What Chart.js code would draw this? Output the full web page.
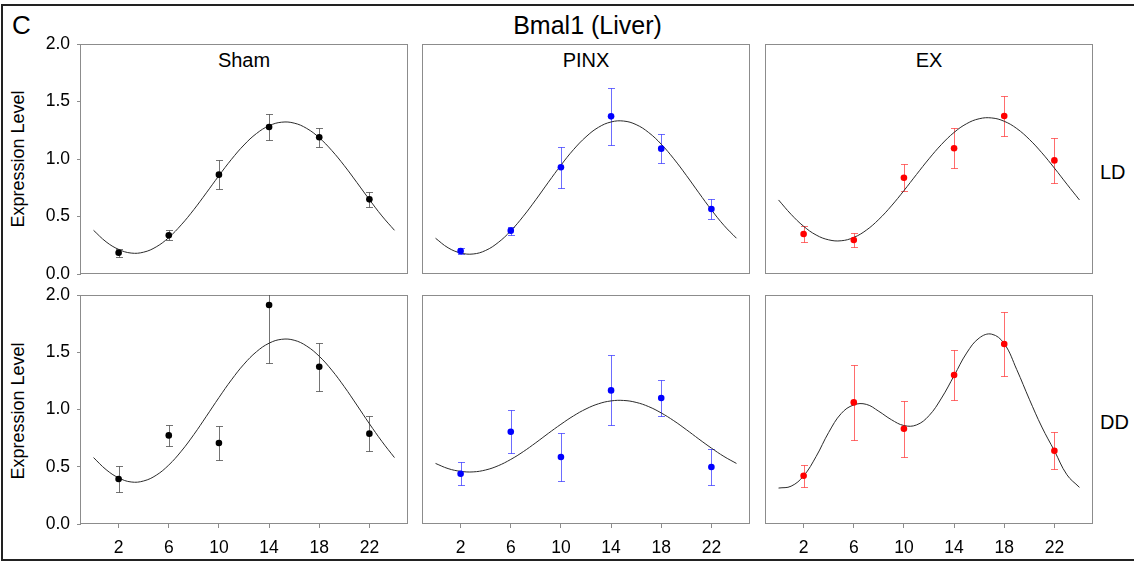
<!DOCTYPE html>
<html><head><meta charset="utf-8">
<script src="https://cdn.jsdelivr.net/npm/chart.js@4/dist/chart.umd.min.js"></script>
<style>
html,body{margin:0;padding:0;background:#fff;}
#fig{position:relative;width:1134px;height:561px;overflow:hidden;font-family:"Liberation Sans",Arial,sans-serif;color:#000;background:#fff;}
#fig canvas{position:absolute;}
.lbl{position:absolute;white-space:nowrap;line-height:1;}
.ctr{text-align:center;width:200px;}
.rot{transform:rotate(-90deg);}
</style></head><body>
<div id="fig">
  <div style="position:absolute;left:1px;top:4px;width:1200px;height:557px;box-sizing:border-box;border:2px solid #222;border-right:none;"></div>
</div>
<script>
// ---------- data ----------
const hours = [2, 6, 10, 14, 18, 22];
const xTickLabels = ['2', '6', '10', '14', '18', '22'];
const yTickLabels = ['0.0', '0.5', '1.0', '1.5', '2.0'];
const curveHours = [0,1,2,3,4,5,6,7,8,9,10,11,12,13,14,15,16,17,18,19,20,21,22,23,24];
const groups = ['Sham', 'PINX', 'EX'];
const conditions = ['LD', 'DD'];
const figTitle = 'Bmal1 (Liver)';
const panelLetter = 'C';
const yAxisTitle = 'Expression Level';

const shamLD    = [0.185, 0.336, 0.864, 1.278, 1.189, 0.649];
const shamLDErr = [0.036, 0.043, 0.123, 0.117, 0.083, 0.064];
const shamLDFit = [0.38,0.28,0.214,0.182,0.19,0.236,0.317,0.428,0.56,0.706,0.855,0.997,1.122,1.222,1.289,1.32,1.312,1.266,1.185,1.074,0.942,0.796,0.647,0.505,0.38];

const pinxLD    = [0.20, 0.377, 0.928, 1.371, 1.09, 0.565];
const pinxLDErr = [0.026, 0.036, 0.178, 0.245, 0.126, 0.083];
const pinxLDFit = [0.311,0.228,0.183,0.174,0.205,0.274,0.375,0.502,0.646,0.798,0.946,1.081,1.193,1.276,1.322,1.33,1.299,1.23,1.129,1.002,0.858,0.706,0.558,0.423,0.311];

const exLD    = [0.348, 0.296, 0.837, 1.093, 1.374, 0.988];
const exLDErr = [0.068, 0.061, 0.119, 0.175, 0.17, 0.194];
const exLDFit = [0.644,0.519,0.415,0.339,0.297,0.289,0.318,0.381,0.475,0.592,0.725,0.865,1.002,1.127,1.231,1.307,1.35,1.357,1.328,1.265,1.171,1.054,0.921,0.781,0.644];

const shamDD    = [0.393, 0.774, 0.707, 1.913, 1.374, 0.789];
const shamDDErr = [0.117, 0.089, 0.149, 0.507, 0.211, 0.15];
const shamDDFit = [0.58,0.475,0.403,0.367,0.376,0.426,0.515,0.636,0.781,0.941,1.104,1.259,1.396,1.505,1.579,1.613,1.605,1.554,1.465,1.344,1.199,1.039,0.876,0.721,0.58];

const pinxDD    = [0.439, 0.806, 0.585, 1.167, 1.10, 0.498];
const pinxDDErr = [0.102, 0.186, 0.21, 0.305, 0.157, 0.157];
const pinxDDFit = [0.529,0.484,0.46,0.455,0.472,0.509,0.564,0.632,0.71,0.792,0.871,0.944,1.005,1.05,1.075,1.079,1.062,1.025,0.97,0.902,0.824,0.742,0.663,0.59,0.529];

const exDD    = [0.422, 1.062, 0.832, 1.301, 1.572, 0.64];
const exDDErr = [0.095, 0.327, 0.243, 0.218, 0.276, 0.16];
const exDDFit = [0.314,0.33,0.42,0.59,0.8,0.965,1.04,1.045,0.984,0.911,0.86,0.865,0.946,1.1,1.295,1.493,1.624,1.658,1.575,1.348,1.09,0.847,0.64,0.43,0.32];

// ---------- layout ----------
const FONT = '"Liberation Sans", Arial, sans-serif';
const COLS = [81, 423, 766];
const ROWS = [44, 295];
const PANEL_W = 326;
const PANEL_H = [230, 229];
const YAXIS_W = 60, PAD_T = 18, PAD_R = 8;
const XAXIS_H = [18, 37];

const fig = document.getElementById('fig');

function addLabel(text, css, cls) {
  const d = document.createElement('div');
  d.className = 'lbl ' + (cls || '');
  d.textContent = text;
  Object.assign(d.style, css);
  fig.appendChild(d);
}

addLabel(figTitle, {left: (587.5 - 100) + 'px', top: '12.8px', fontSize: '25px'}, 'ctr');
addLabel(panelLetter, {left: '12px', top: '11.5px', fontSize: '26px'});
groups.forEach((g, c) => addLabel(g, {left: (COLS[c] + PANEL_W / 2 - 100) + 'px', top: '50.2px', fontSize: '20px'}, 'ctr'));
addLabel(conditions[0], {left: '1100px', top: '162.2px', fontSize: '20px'});
addLabel(conditions[1], {left: '1100px', top: '411.9px', fontSize: '20px'});
[159, 411].forEach(cy => addLabel(yAxisTitle, {left: (18 - 100) + 'px', top: (cy - 9) + 'px', fontSize: '18px', height: '18px'}, 'ctr rot'));

const framePlugin = {
  id: 'frame',
  beforeDatasetsDraw(chart) {
    const a = chart.chartArea, ctx = chart.ctx;
    ctx.save();
    ctx.strokeStyle = '#8c8c8c';
    ctx.lineWidth = 1;
    ctx.strokeRect(Math.round(a.left) - 0.5, Math.round(a.top) + 0.5, Math.round(a.right - a.left) + 1, Math.round(a.bottom - a.top) - 1);
    ctx.restore();
  }
};

const errorBarPlugin = {
  id: 'errorBars',
  beforeDatasetsDraw(chart) {
    const ctx = chart.ctx, a = chart.chartArea;
    const xs = chart.scales.x, ys = chart.scales.y;
    chart.data.datasets.forEach(ds => {
      if (!ds.errors) return;
      ctx.save();
      ctx.beginPath();
      ctx.rect(a.left, a.top, a.right - a.left, a.bottom - a.top);
      ctx.clip();
      ctx.strokeStyle = ds.errorColor;
      ctx.lineWidth = 1;
      ds.data.forEach((pt, i) => {
        const e = ds.errors[i];
        const px = Math.round(xs.getPixelForValue(pt.x)) + 0.5;
        const yTop = Math.round(ys.getPixelForValue(pt.y + e)) + 0.5;
        const yBot = Math.round(ys.getPixelForValue(pt.y - e)) + 0.5;
        ctx.beginPath();
        ctx.moveTo(px, yTop); ctx.lineTo(px, yBot);
        ctx.moveTo(px - 3.5, yTop); ctx.lineTo(px + 3.5, yTop);
        ctx.moveTo(px - 3.5, yBot); ctx.lineTo(px + 3.5, yBot);
        ctx.stroke();
      });
      ctx.restore();
    });
  }
};

const panels = [
  {col: 0, row: 0, mean: shamLD, err: shamLDErr, fit: shamLDFit, color: '#000000', bar: 'rgba(70,70,70,0.75)'},
  {col: 1, row: 0, mean: pinxLD, err: pinxLDErr, fit: pinxLDFit, color: '#0000ff', bar: 'rgba(30,30,255,0.65)'},
  {col: 2, row: 0, mean: exLD,   err: exLDErr,   fit: exLDFit,   color: '#ff0000', bar: 'rgba(255,30,30,0.65)'},
  {col: 0, row: 1, mean: shamDD, err: shamDDErr, fit: shamDDFit, color: '#000000', bar: 'rgba(70,70,70,0.75)'},
  {col: 1, row: 1, mean: pinxDD, err: pinxDDErr, fit: pinxDDFit, color: '#0000ff', bar: 'rgba(30,30,255,0.65)'},
  {col: 2, row: 1, mean: exDD,   err: exDDErr,   fit: exDDFit,   color: '#ff0000', bar: 'rgba(255,30,30,0.65)'}
];

panels.forEach(p => {
  const xh = XAXIS_H[p.row];
  const w = YAXIS_W + PANEL_W + PAD_R;
  const h = PAD_T + PANEL_H[p.row] + xh;
  const cv = document.createElement('canvas');
  cv.width = w; cv.height = h;
  cv.style.left = (COLS[p.col] - YAXIS_W) + 'px';
  cv.style.top = (ROWS[p.row] - PAD_T) + 'px';
  cv.style.width = w + 'px'; cv.style.height = h + 'px';
  fig.appendChild(cv);
  const showY = p.col === 0, showX = p.row === 1;
  new Chart(cv, {
    type: 'line',
    data: {
      datasets: [
        {label: 'mean', data: hours.map((hh, i) => ({x: hh, y: p.mean[i]})), showLine: false,
         pointRadius: 3.3, pointBorderWidth: 0, pointBackgroundColor: p.color, borderColor: p.color,
         order: 0, errors: p.err, errorColor: p.bar},
        {label: 'fit', data: curveHours.map((hh, i) => ({x: hh, y: p.fit[i]})), borderColor: '#2a2a2a',
         borderWidth: 1, pointRadius: 0, tension: 0.4, fill: false, order: 1}
      ]
    },
    options: {
      responsive: false, animation: false, devicePixelRatio: 1,
      layout: {padding: {top: PAD_T, right: PAD_R, left: 0, bottom: 0}},
      plugins: {legend: {display: false}, tooltip: {enabled: false}, title: {display: false}},
      scales: {
        x: {
          type: 'linear', min: -1, max: 25,
          afterBuildTicks: s => { s.ticks = hours.map(v => ({value: v})); },
          afterFit: s => { s.height = xh; },
          grid: {display: showX, drawOnChartArea: false, drawTicks: true, tickLength: 4, color: '#8c8c8c'},
          border: {display: false},
          ticks: {display: showX, autoSkip: false, maxRotation: 0, minRotation: 0, padding: 10,
                  font: {family: FONT, size: 17.5}, color: '#000',
                  callback: (v, i) => xTickLabels[i]}
        },
        y: {
          type: 'linear', min: 0, max: 2,
          afterBuildTicks: s => { s.ticks = yTickLabels.map(t => ({value: parseFloat(t)})); },
          afterFit: s => { s.width = YAXIS_W; },
          grid: {display: showY, drawOnChartArea: false, drawTicks: true, tickLength: 4, color: '#8c8c8c'},
          border: {display: false},
          ticks: {display: showY, padding: 7, font: {family: FONT, size: 17.5}, color: '#000',
                  callback: (v, i) => yTickLabels[i]}
        }
      }
    },
    plugins: [framePlugin, errorBarPlugin]
  });
});
</script>
</body></html>
